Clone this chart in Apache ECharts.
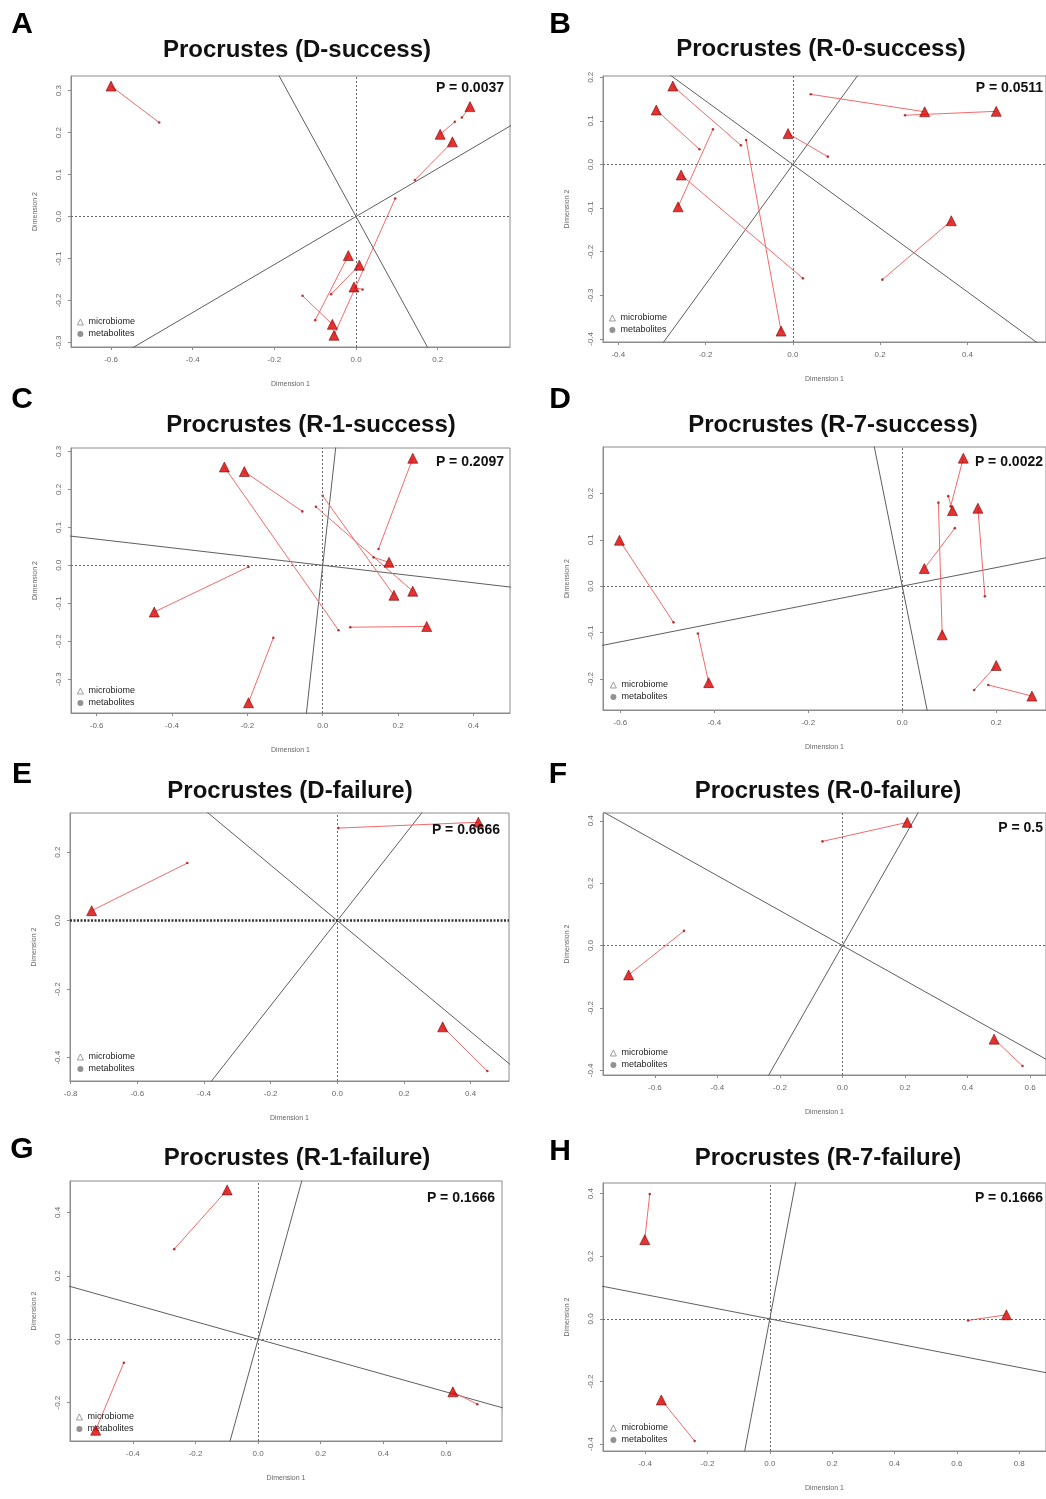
<!DOCTYPE html>
<html><head><meta charset="utf-8">
<script src="https://cdn.jsdelivr.net/npm/echarts@6/dist/echarts.min.js"></script>
<style>html,body{margin:0;padding:0;background:#fff}#c{width:1046px;height:1499px}</style>
</head><body><div id="c"></div>
<script>
// ---------- DATA ----------
const microA = [[-0.600,0.311],[0.279,0.262],[0.206,0.196],[0.236,0.178],[-0.019,-0.093],[0.008,-0.116],[-0.005,-0.168],[-0.058,-0.257],[-0.054,-0.283]];
const metabA = [[-0.482,0.224],[0.259,0.236],[0.242,0.226],[0.144,0.087],[-0.100,-0.247],[-0.061,-0.185],[0.016,-0.174],[-0.131,-0.189],[0.096,0.043]];
const slopesA = [-1.78, 0.572];

const microB = [[-0.275,0.180],[-0.313,0.125],[-0.011,0.071],[0.302,0.121],[0.466,0.122],[-0.256,-0.024],[-0.263,-0.097],[0.363,-0.129],[-0.027,-0.382]];
const metabB = [[-0.119,0.044],[-0.214,0.035],[0.080,0.018],[0.041,0.161],[0.257,0.113],[0.023,-0.261],[-0.183,0.081],[0.205,-0.264],[-0.107,0.056]];
const slopesB = [-0.73, 1.375];

const microC = [[-0.261,0.259],[-0.208,0.247],[0.239,0.282],[0.176,0.008],[0.189,-0.079],[0.239,-0.068],[-0.447,-0.123],[0.276,-0.161],[-0.197,-0.362]];
const metabC = [[0.042,-0.171],[-0.054,0.142],[0.148,0.043],[0.135,0.021],[0.000,0.183],[-0.018,0.154],[-0.197,-0.004],[0.073,-0.163],[-0.131,-0.191]];
const slopesC = [-0.115, 9.0];

const microD = [[-0.602,0.099],[-0.412,-0.208],[0.130,0.276],[0.107,0.163],[0.161,0.168],[0.047,0.038],[0.085,-0.105],[0.200,-0.171],[0.276,-0.237]];
const metabD = [[-0.487,-0.078],[-0.435,-0.102],[0.103,0.172],[0.098,0.194],[0.176,-0.022],[0.112,0.125],[0.077,0.180],[0.153,-0.224],[0.183,-0.213]];
const slopesD = [0.2, -5.05];

const microE = [[-0.737,0.029],[0.423,0.287],[0.316,-0.310]];
const metabE = [[-0.450,0.168],[0.003,0.270],[0.450,-0.439]];
const slopesE = [-0.81, 1.24];

const microF = [[0.207,0.395],[-0.684,-0.094],[0.485,-0.300]];
const metabF = [[-0.064,0.334],[-0.507,0.047],[0.576,-0.386]];
const slopesF = [-0.56, 1.76];

const microG = [[-0.099,0.471],[-0.519,-0.287],[0.622,-0.166]];
const metabG = [[-0.268,0.284],[-0.429,-0.074],[0.700,-0.205]];
const slopesG = [-0.277, 3.58];

const microH = [[-0.401,0.253],[-0.348,-0.259],[0.759,0.013]];
const metabH = [[-0.385,0.399],[-0.241,-0.390],[0.636,-0.005]];
const slopesH = [-0.194, 5.25];

const titles = ['Procrustes (D-success)','Procrustes (R-0-success)','Procrustes (R-1-success)','Procrustes (R-7-success)',
                'Procrustes (D-failure)','Procrustes (R-0-failure)','Procrustes (R-1-failure)','Procrustes (R-7-failure)'];
const letters = ['A','B','C','D','E','F','G','H'];
const pLabels = ['P = 0.0037','P = 0.0511','P = 0.2097','P = 0.0022','P = 0.6666','P = 0.5','P = 0.1666','P = 0.1666'];

const xTicks = [
  [-0.6,-0.4,-0.2,0,0.2],
  [-0.4,-0.2,0,0.2,0.4],
  [-0.6,-0.4,-0.2,0,0.2,0.4],
  [-0.6,-0.4,-0.2,0,0.2],
  [-0.8,-0.6,-0.4,-0.2,0,0.2,0.4],
  [-0.6,-0.4,-0.2,0,0.2,0.4,0.6],
  [-0.4,-0.2,0,0.2,0.4,0.6],
  [-0.4,-0.2,0,0.2,0.4,0.6,0.8]
];
const yTicks = [
  [-0.3,-0.2,-0.1,0,0.1,0.2,0.3],
  [-0.4,-0.3,-0.2,-0.1,0,0.1,0.2],
  [-0.3,-0.2,-0.1,0,0.1,0.2,0.3],
  [-0.2,-0.1,0,0.1,0.2],
  [-0.4,-0.2,0,0.2],
  [-0.4,-0.2,0,0.2,0.4],
  [-0.2,0,0.2,0.4],
  [-0.4,-0.2,0,0.2,0.4]
];
const xRanges = [[-0.698,0.377],[-0.435,0.58],[-0.668,0.497],[-0.637,0.306],[-0.802,0.515],[-0.766,0.651],[-0.601,0.779],[-0.535,0.886]];
const yRanges = [[-0.311,0.335],[-0.407,0.203],[-0.389,0.309],[-0.267,0.30],[-0.468,0.314],[-0.415,0.425],[-0.321,0.499],[-0.422,0.434]];

const micros = [microA,microB,microC,microD,microE,microF,microG,microH];
const metabs = [metabA,metabB,metabC,metabD,metabE,metabF,metabG,metabH];
const slopes = [slopesA,slopesB,slopesC,slopesD,slopesE,slopesF,slopesG,slopesH];

// ---------- LAYOUT ----------
const gridBoxes = [[71,76,439,271],[603,76,443,266],[71,448,439,265],[603,447,443,263],
                   [70,813,439,268],[603,813,443,262],[70,1181,432,260],[603,1183,443,268]];
const letterPos = [[22,25],[560,25],[22,400],[560,400],[22,775],[558,775],[22,1150],[560,1152]];
const titlePos = [[297,50],[821,49],[311,425],[833,425],[290,791],[828,791],[297,1158],[828,1158]];
const pPos = [[504,88],[1043,88],[504,462],[1043,462],[500,830],[1043,828],[495,1198],[1043,1198]];
const legPos = [[80,322],[612,318],[80,691],[613,685],[80,1057],[613,1053],[79,1417],[613,1428]];

const FONT = '"Liberation Sans", Arial, sans-serif';
const grids=[], xAxes=[], yAxes=[], series=[], legends=[], graphics=[];
const fmt = v => Number(v).toFixed(1);

for (let i=0;i<8;i++){
  const g = gridBoxes[i];
  grids.push({left:g[0], top:g[1], width:g[2], height:g[3], show:true, borderColor:'#8c8c8c', borderWidth:1, backgroundColor:'transparent'});
  xAxes.push({type:'value', gridIndex:i, min:xRanges[i][0], max:xRanges[i][1],
    name:'Dimension 1', nameLocation:'middle', nameGap:34,
    nameTextStyle:{fontSize:7, color:'#666', fontFamily:FONT},
    axisLine:{show:true, onZero:false, lineStyle:{color:'#8c8c8c'}},
    axisTick:{show:true, customValues:xTicks[i], length:3, lineStyle:{color:'#8c8c8c'}},
    axisLabel:{customValues:xTicks[i], formatter:fmt, fontSize:8, color:'#666', margin:9, fontFamily:FONT},
    splitLine:{show:false}});
  yAxes.push({type:'value', gridIndex:i, min:yRanges[i][0], max:yRanges[i][1],
    name:'Dimension 2', nameLocation:'middle', nameGap:32, nameRotate:90,
    nameTextStyle:{fontSize:7, color:'#666', fontFamily:FONT},
    axisLine:{show:true, onZero:false, lineStyle:{color:'#8c8c8c'}},
    axisTick:{show:true, customValues:yTicks[i], length:3, lineStyle:{color:'#8c8c8c'}},
    axisLabel:{customValues:yTicks[i], formatter:fmt, fontSize:8, color:'#666', margin:8, rotate:90, fontFamily:FONT},
    splitLine:{show:false}});

  const isE = i===4;
  slopes[i].forEach((s,k)=>{
    series.push({type:'line', xAxisIndex:i, yAxisIndex:i, silent:true, showSymbol:false, symbol:'none', clip:true, z:1,
      lineStyle:{color:'#5e5e5e', width:1}, data:[[-20,-20*s],[20,20*s]],
      markLine: k===0 ? {silent:true, symbol:'none', label:{show:false}, animation:false,
        lineStyle:{color:'#666', type:[2,2], width:1},
        data:[{xAxis:0},{yAxis:0, lineStyle: isE?{color:'#333', type:[2,1.5], width:2.5}:{color:'#666', type:[2,2], width:1}}]} : undefined
    });
  });
  series.push({type:'lines', coordinateSystem:'cartesian2d', xAxisIndex:i, yAxisIndex:i, silent:true, z:3,
    lineStyle:{color:'#f36a6a', width:1, opacity:1},
    data: micros[i].map((p,j)=>({coords:[p, metabs[i][j]]}))});
  series.push({type:'scatter', name:'metabolites', xAxisIndex:i, yAxisIndex:i, symbol:'circle', symbolSize:2.6, z:4, silent:true,
    itemStyle:{color:'#a01010'}, data:metabs[i]});
  series.push({type:'scatter', name:'microbiome', xAxisIndex:i, yAxisIndex:i, symbol:'triangle', symbolSize:10, z:5, silent:true,
    itemStyle:{color:'#dd0000', borderColor:'#6a0000', borderWidth:0.7}, data:micros[i]});

  const lp = legPos[i];
  legends.push({left:lp[0]-3, top:lp[1]-5, orient:'vertical', itemWidth:6, itemHeight:6, itemGap:2, padding:0,
    selectedMode:false, textStyle:{fontSize:9, color:'#222', lineHeight:10, fontFamily:FONT},
    data:[{name:'microbiome', icon:'triangle', itemStyle:{color:'rgba(0,0,0,0)', borderColor:'#666', borderWidth:0.8}},
          {name:'metabolites', icon:'circle', itemStyle:{color:'#777', borderWidth:0}}]});

  graphics.push({type:'text', x:letterPos[i][0], y:letterPos[i][1], z:10,
    style:{text:letters[i], font:'bold 30px '+FONT, fill:'#000', textAlign:'center', textVerticalAlign:'middle', align:'center', verticalAlign:'middle'}});
  graphics.push({type:'text', x:titlePos[i][0], y:titlePos[i][1], z:10,
    style:{text:titles[i], font:'bold 24px '+FONT, fill:'#111', textAlign:'center', textVerticalAlign:'middle', align:'center', verticalAlign:'middle'}});
  graphics.push({type:'text', x:pPos[i][0], y:pPos[i][1], z:10,
    style:{text:pLabels[i], font:'bold 14px '+FONT, fill:'#111', textAlign:'right', textVerticalAlign:'middle', align:'right', verticalAlign:'middle'}});
}

const chart = echarts.init(document.getElementById('c'), null, {renderer:'canvas'});
chart.setOption({animation:false, backgroundColor:'#fff', textStyle:{fontFamily:FONT},
  grid:grids, xAxis:xAxes, yAxis:yAxes, series:series, legend:legends, graphic:graphics});
</script></body></html>
